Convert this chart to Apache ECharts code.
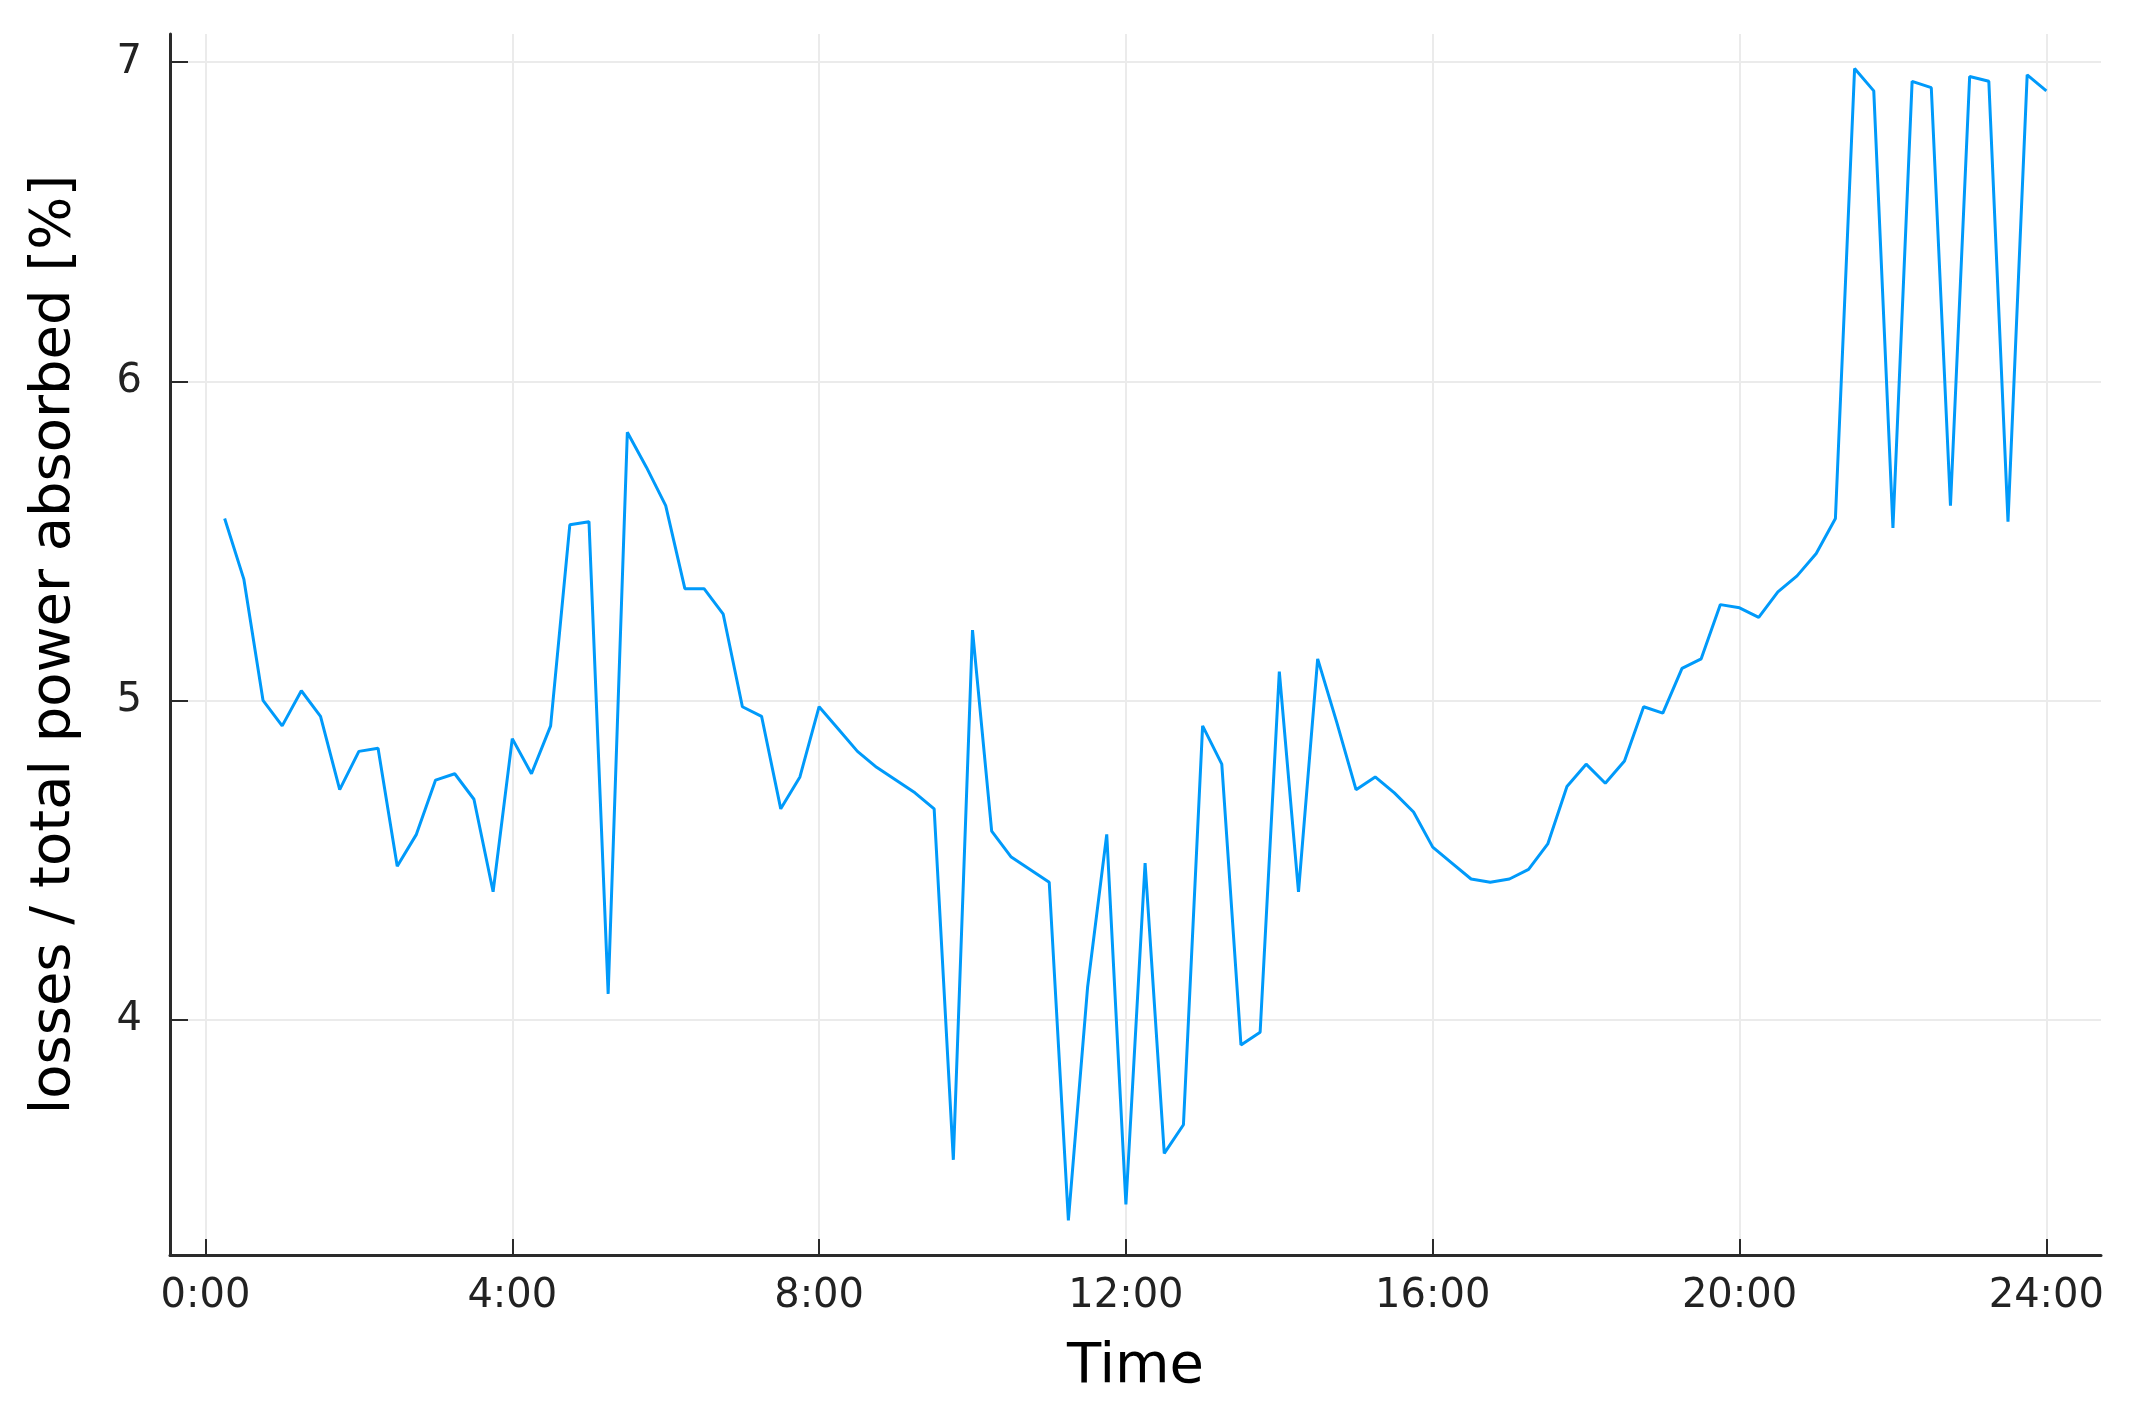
<!DOCTYPE html>
<html>
<head>
<meta charset="utf-8">
<script src="https://cdn.jsdelivr.net/npm/echarts@6/dist/echarts.min.js"></script>
<style>html,body{margin:0;padding:0;background:#fff;}#c{width:2132px;height:1411px;}</style>
</head>
<body>
<div id="c"></div>
<script>
const timeLabels = [
 "0:15","0:30","0:45","1:00","1:15","1:30","1:45","2:00","2:15","2:30","2:45","3:00",
 "3:15","3:30","3:45","4:00","4:15","4:30","4:45","5:00","5:15","5:30","5:45","6:00",
 "6:15","6:30","6:45","7:00","7:15","7:30","7:45","8:00","8:15","8:30","8:45","9:00",
 "9:15","9:30","9:45","10:00","10:15","10:30","10:45","11:00","11:15","11:30","11:45","12:00",
 "12:15","12:30","12:45","13:00","13:15","13:30","13:45","14:00","14:15","14:30","14:45","15:00",
 "15:15","15:30","15:45","16:00","16:15","16:30","16:45","17:00","17:15","17:30","17:45","18:00",
 "18:15","18:30","18:45","19:00","19:15","19:30","19:45","20:00","20:15","20:30","20:45","21:00",
 "21:15","21:30","21:45","22:00","22:15","22:30","22:45","23:00","23:15","23:30","23:45","24:00"
];
const lossPercent = [
 5.57,5.38,5.00,4.92,5.03,4.95,4.72,4.84,4.85,4.48,4.58,4.75,
 4.77,4.69,4.40,4.88,4.77,4.92,5.55,5.56,4.08,5.84,5.73,5.61,
 5.35,5.35,5.27,4.98,4.95,4.66,4.76,4.98,4.91,4.84,4.79,4.75,
 4.71,4.66,3.56,5.22,4.59,4.51,4.47,4.43,3.37,4.10,4.58,3.42,
 4.49,3.58,3.67,4.92,4.80,3.92,3.96,5.09,4.40,5.13,4.93,4.72,
 4.76,4.71,4.65,4.54,4.49,4.44,4.43,4.44,4.47,4.55,4.73,4.80,
 4.74,4.81,4.98,4.96,5.10,5.13,5.30,5.29,5.26,5.34,5.39,5.46,
 5.57,6.98,6.91,5.54,6.94,6.92,5.61,6.955,6.94,5.56,6.96,6.91
];
const xTickHours = [0,4,8,12,16,20,24];
const yTickValues = [4,5,6,7];

const toHours = s => { const p = s.split(':'); return +p[0] + (+p[1]) / 60; };
const seriesData = timeLabels.map((t, i) => [toHours(t), lossPercent[i]]);

const xs = seriesData.map(d => d[0]);
const ys = lossPercent;
const xMinD = Math.min(...xs), xMaxD = Math.max(...xs);
const yMinD = Math.min(...ys), yMaxD = Math.max(...ys);
const xPad = (xMaxD - xMinD) * 0.03, yPad = (yMaxD - yMinD) * 0.03;

const FONT = 'DejaVu Sans';
const chart = echarts.init(document.getElementById('c'), null, {renderer: 'canvas'});
chart.setOption({
  animation: false,
  backgroundColor: '#ffffff',
  grid: {left: 170, right: 31, top: 34, bottom: 156, containLabel: false},
  xAxis: {
    type: 'value',
    min: xMinD - xPad,
    max: xMaxD + xPad,
    name: 'Time',
    nameLocation: 'middle',
    nameGap: 84,
    nameTextStyle: {fontFamily: FONT, fontSize: 56, color: '#000'},
    axisLine: {show: true, onZero: false, lineStyle: {color: '#2a2a2a', width: 3}},
    axisTick: {show: true, inside: true, length: 16, customValues: xTickHours, lineStyle: {color: '#2a2a2a', width: 2}},
    axisLabel: {customValues: xTickHours, formatter: v => Math.round(v) + ':00', fontFamily: FONT, fontSize: 40, color: '#222', margin: 22},
    splitLine: {show: true, lineStyle: {color: '#ebebeb', width: 2}}
  },
  yAxis: {
    type: 'value',
    min: yMinD - yPad,
    max: yMaxD + yPad,
    name: 'losses / total power absorbed [%]',
    nameLocation: 'middle',
    nameRotate: 90,
    nameGap: 88,
    nameTextStyle: {fontFamily: FONT, fontSize: 56, color: '#000'},
    axisLine: {show: true, onZero: false, lineStyle: {color: '#2a2a2a', width: 3}},
    axisTick: {show: true, inside: true, length: 18, customValues: yTickValues, lineStyle: {color: '#2a2a2a', width: 2}},
    axisLabel: {customValues: yTickValues, formatter: v => String(Math.round(v)), fontFamily: FONT, fontSize: 40, color: '#222', margin: 28},
    splitLine: {show: true, lineStyle: {color: '#ebebeb', width: 2}}
  },
  series: [{
    type: 'line',
    data: seriesData,
    showSymbol: false,
    symbol: 'none',
    lineStyle: {color: '#009AFA', width: 3},
    itemStyle: {color: '#009AFA'}
  }]
});
</script>
</body>
</html>
